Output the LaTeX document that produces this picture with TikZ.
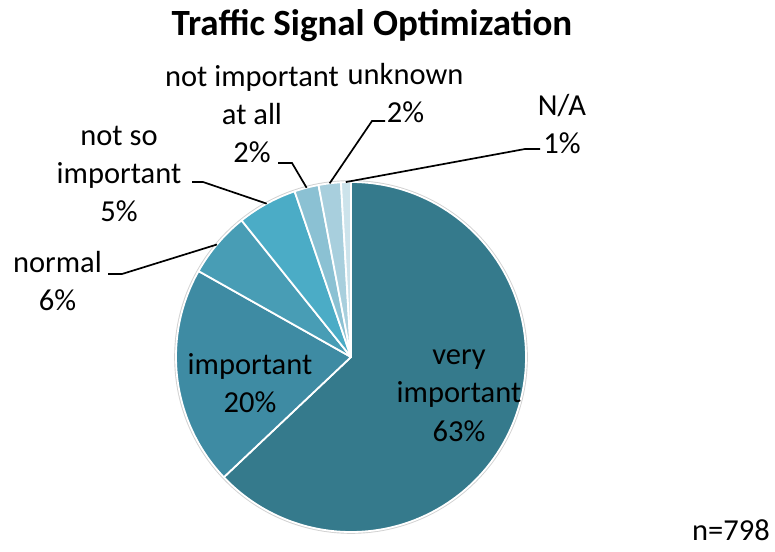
\documentclass[tikz,border=0pt]{standalone}
\usepackage{fontspec}
\setmainfont{Carlito}
\definecolor{cVery}{HTML}{357A8C}
\definecolor{cImp}{HTML}{3E8BA3}
\definecolor{cNorm}{HTML}{489DB5}
\definecolor{cNotSo}{HTML}{4BACC6}
\definecolor{cNotAll}{HTML}{8BC1D3}
\definecolor{cUnk}{HTML}{A8CFDD}
\definecolor{cNA}{HTML}{CCE3EB}
\begin{document}
\begin{tikzpicture}[x=1pt,y=1pt,
  slice/.style={draw=white,line width=1.8pt,line join=round},
  leader/.style={draw=black,line width=1.7pt},
  lbl/.style={anchor=base,inner sep=0pt,font=\fontsize{30.5}{38}\selectfont},
  ttl/.style={anchor=base,inner sep=0pt,font=\fontsize{37}{44}\selectfont\bfseries}]
\useasboundingbox (0,0) rectangle (775,551);
\fill[white] (0,0) rectangle (775,551);
\coordinate (C) at (351,194);
\def\R{175}
% shadow rim
\fill[gray!35] (C) circle[radius=176.8];
% slices
\fill[cVery,slice] (C) -- ++(90:\R) arc[start angle=90,end angle=-136.6,radius=\R] -- cycle;
\fill[cImp,slice] (C) -- ++(-136.6:\R) arc[start angle=-136.6,end angle=-209.4,radius=\R] -- cycle;
\fill[cNorm,slice] (C) -- ++(150.6:\R) arc[start angle=150.6,end angle=128.7,radius=\R] -- cycle;
\fill[cNotSo,slice] (C) -- ++(128.7:\R) arc[start angle=128.7,end angle=108.8,radius=\R] -- cycle;
\fill[cNotAll,slice] (C) -- ++(108.8:\R) arc[start angle=108.8,end angle=100.7,radius=\R] -- cycle;
\fill[cUnk,slice] (C) -- ++(100.7:\R) arc[start angle=100.7,end angle=93.3,radius=\R] -- cycle;
\fill[cNA,slice] (C) -- ++(93.3:\R) arc[start angle=93.3,end angle=90,radius=\R] -- cycle;
% leader anchor points on the rim
\path (C) ++(140:\R) coordinate (pNorm);
\path (C) ++(118.8:\R) coordinate (pNotSo);
\path (C) ++(104.7:\R) coordinate (pNotAll);
\path (C) ++(97:\R) coordinate (pUnk);
\path (C) ++(91.7:\R) coordinate (pNA);
\coordinate (kNorm1) at (108,277);  \coordinate (kNorm2) at (122,277);
\coordinate (kNotSo1) at (192,369); \coordinate (kNotSo2) at (203,369);
\coordinate (kNotAll1) at (278,388); \coordinate (kNotAll2) at (292,388);
\coordinate (kUnk1) at (385,430);  \coordinate (kUnk2) at (372,430);
\coordinate (kNA1) at (540,402);   \coordinate (kNA2) at (525,402);
\draw[leader] (kNorm1) -- (kNorm2) -- (pNorm);
\draw[leader] (kNotSo1) -- (kNotSo2) -- (pNotSo);
\draw[leader] (kNotAll1) -- (kNotAll2) -- (pNotAll);
\draw[leader] (kUnk1) -- (kUnk2) -- (pUnk);
\draw[leader] (kNA1) -- (kNA2) -- (pNA);
% title
\node[ttl] (title) at (372,515) {Traffic Signal Optimization};
% labels
\node[lbl] (v1) at (459,186) {very};
\node[lbl] (v2) at (459,148) {important};
\node[lbl] (v3) at (459,110) {63\%};
\node[lbl] (i1) at (250,176) {important};
\node[lbl] (i2) at (250,138) {20\%};
\node[lbl] (n1) at (57.5,278) {normal};
\node[lbl] (n2) at (57.5,240) {6\%};
\node[lbl] (s1) at (119,405) {not so};
\node[lbl] (s2) at (119,367) {important};
\node[lbl] (s3) at (119,329) {5\%};
\node[lbl] (a1) at (252,464) {not important};
\node[lbl] (a2) at (252,426) {at all};
\node[lbl] (a3) at (252,388) {2\%};
\node[lbl] (u1) at (405.5,466) {unknown};
\node[lbl] (u2) at (405.5,428) {2\%};
\node[lbl] (na1) at (562,435) {N/A};
\node[lbl] (na2) at (562,397) {1\%};
\node[lbl] (nn) at (731,11) {n=798};
\end{tikzpicture}
\end{document}
